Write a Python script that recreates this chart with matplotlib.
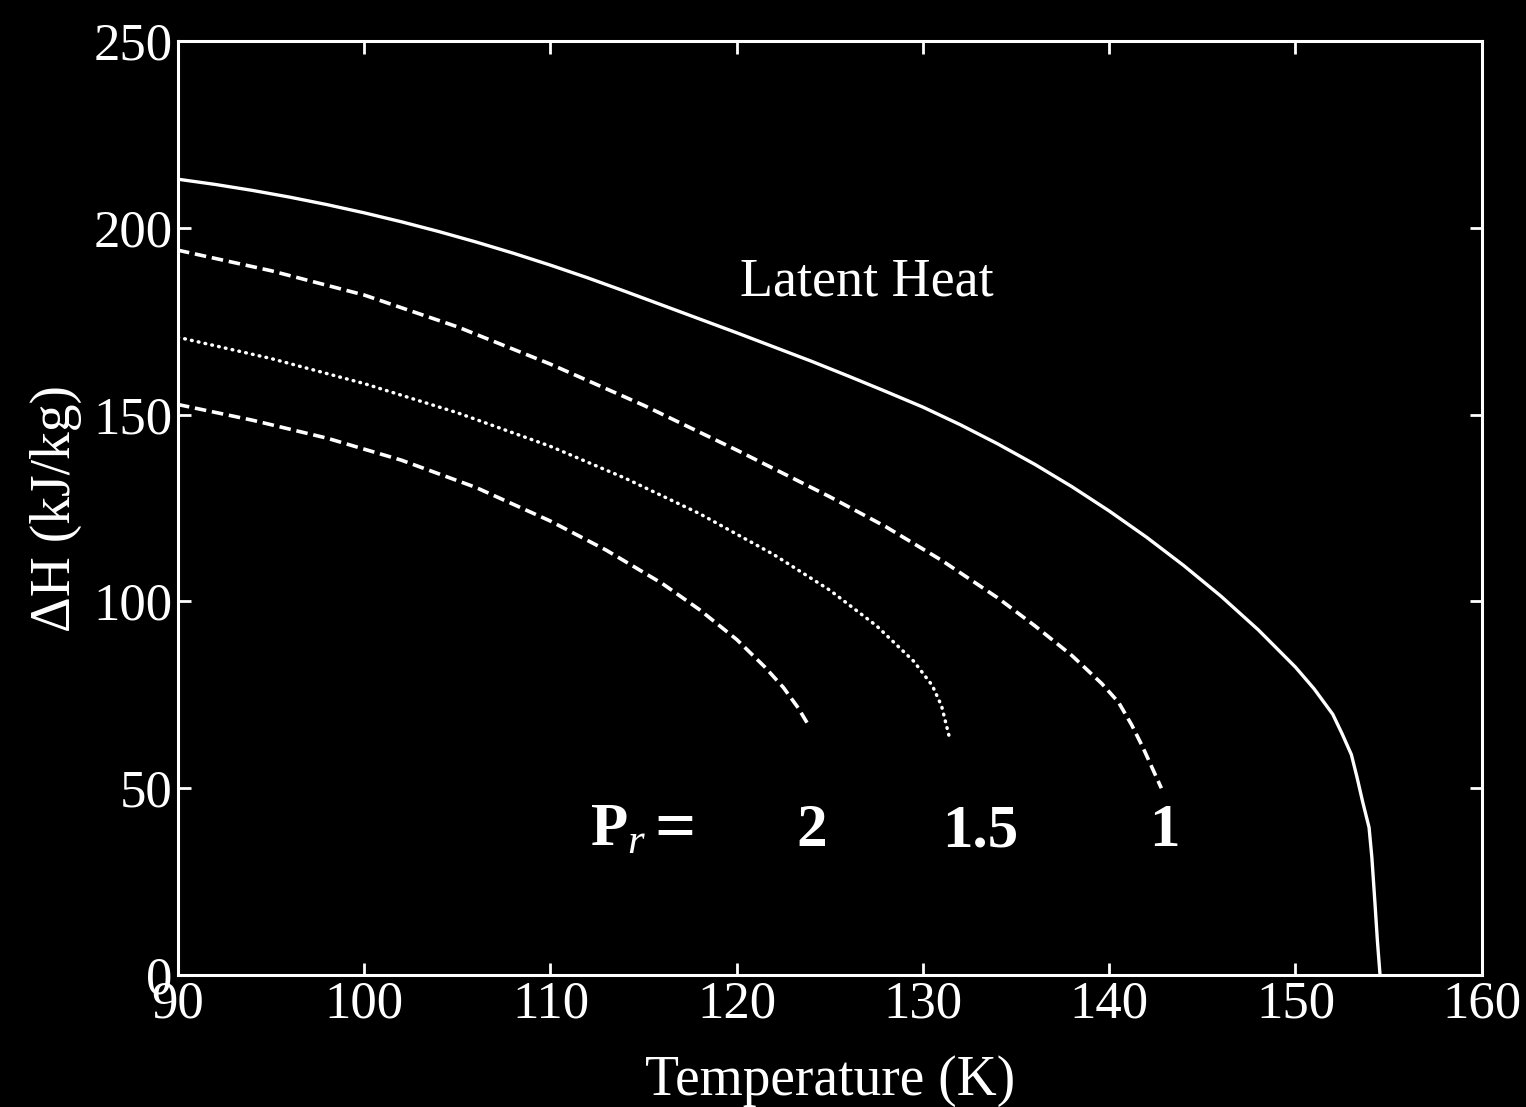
import matplotlib.pyplot as plt
import numpy as np

plt.rcParams['font.family'] = ['Liberation Serif', 'DejaVu Serif']
plt.rcParams['mathtext.fontset'] = 'custom'
plt.rcParams['mathtext.rm'] = 'Liberation Serif'
plt.rcParams['mathtext.it'] = 'Liberation Serif:italic'
plt.rcParams['mathtext.bf'] = 'Liberation Serif:bold'

# latent heat of vaporisation (solid curve)
T_lat = [90, 92, 94, 96, 98, 100, 102, 104, 106, 108, 110, 112, 114, 116, 118,
         120, 122, 124, 126, 128, 130, 132, 134, 136, 138, 140, 142, 144, 146,
         148, 150, 151, 152, 152.5, 153, 153.3, 153.6, 153.95, 154.1, 154.27,
         154.4, 154.54]
dH_lat = [213.0, 211.6, 210.0, 208.2, 206.2, 204.0, 201.6, 199.0, 196.2, 193.2,
          190.0, 186.6, 183.0, 179.3, 175.6, 171.9, 168.1, 164.3, 160.3, 156.2,
          152.0, 147.3, 142.2, 136.7, 130.7, 124.2, 117.2, 109.6, 101.4, 92.4,
          82.4, 76.6, 69.8, 64.6, 59.0, 53.0, 46.5, 39.5, 31.5, 19.0, 9.0, 0]

# heat absorbed at reduced pressure Pr = 1
T_p1 = [90, 95, 100, 105, 110, 115, 120, 125, 128, 131, 134, 136, 138, 139.6,
        140.5, 141.2, 141.8, 142.3, 142.8]
dH_p1 = [194, 188.5, 182, 173.5, 163.5, 152.5, 140.5, 128, 120, 111, 101, 93.5,
         85.5, 78, 73, 67, 61, 55.5, 50]

# Pr = 1.5
T_p15 = [90, 95, 100, 105, 110, 114, 118, 122, 125, 127.5, 129.5, 130.5, 131, 131.4]
dH_p15 = [170.7, 165, 158.3, 150.5, 141.5, 133, 123.5, 112.5, 103, 93.5, 84,
          77.5, 72, 64]

# Pr = 2
T_p2 = [90, 94, 98, 102, 106, 110, 113, 116, 118, 120, 121.5, 122.5, 123.3, 123.9]
dH_p2 = [152.7, 148.5, 143.7, 137.8, 130.5, 121.5, 113.7, 104.8, 97.8, 89.8,
         82.5, 77, 71.5, 66.5]

fg = 'white'
fig = plt.figure(figsize=(15.26, 11.07), dpi=100, facecolor='black')
ax = fig.add_axes([0.1166, 0.1192, 0.8544, 0.8438])
ax.set_facecolor('black')

ax.plot(T_lat, dH_lat, color=fg, lw=2.4, solid_joinstyle='round')
ax.plot(T_p1, dH_p1, color=fg, lw=2.6, dashes=(3.2, 1.6))
ax.plot(T_p15, dH_p15, color=fg, lw=2.5, dashes=(0.2, 1.8), dash_capstyle='round')
ax.plot(T_p2, dH_p2, color=fg, lw=2.6, dashes=(3.2, 1.6))

ax.set_xlim(90, 160)
ax.set_ylim(0, 250)
ax.set_xticks(np.arange(90, 161, 10))
ax.set_yticks(np.arange(0, 251, 50))

for s in ax.spines.values():
    s.set_color(fg)
    s.set_linewidth(2.2)
ax.tick_params(direction='in', length=9, width=2, colors=fg,
               top=True, right=True, labelsize=38, pad=4)

ax.set_xlabel('Temperature (K)', color=fg, fontsize=40, labelpad=19)
ax.set_ylabel('ΔH (kJ/kg)', color=fg, fontsize=40, labelpad=8)

ax.text(127.0, 185.5, 'Latent Heat', color=fg, fontsize=39, ha='center', va='center')

# reduced pressure labels under each curve
ax.text(112.1, 38.5, r'$\mathbf{P}_{\mathit{r}}$', color=fg, fontsize=44, ha='left', va='center')
ax.text(116.7, 38.5, '=', color=fg, fontsize=52, fontweight='bold', ha='center', va='center')
ax.text(124.0, 38.5, '2', color=fg, fontsize=44, fontweight='bold', ha='center', va='center')
ax.text(133.1, 38.5, '1.5', color=fg, fontsize=44, fontweight='bold', ha='center', va='center')
ax.text(142.95, 38.5, '1', color=fg, fontsize=44, fontweight='bold', ha='center', va='center')

fig.savefig('out.png', dpi=100, facecolor='black')
